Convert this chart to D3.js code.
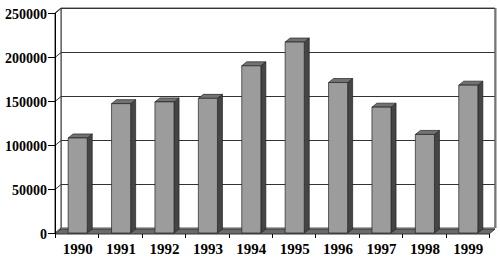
<!DOCTYPE html>
<html>
<head>
<meta charset="utf-8">
<script src="https://cdn.jsdelivr.net/npm/d3@7"></script>
<style>
  body { margin: 0; background: #fff; }
  svg text { font-family: "Liberation Serif", "Times New Roman", serif; font-weight: bold; fill: #000; }
</style>
</head>
<body>
<div id="chart"></div>
<script>
// data
var years = ["1990", "1991", "1992", "1993", "1994", "1995", "1996", "1997", "1998", "1999"];
var values = [108000, 147000, 149000, 153000, 190000, 217000, 171000, 143000, 112000, 168000];
var yTicks = [0, 50000, 100000, 150000, 200000, 250000];

var W = 500, H = 259;
var svg = d3.select("#chart").append("svg").attr("width", W).attr("height", H);

// front plane of the 3d box, walls go back by (dx, dy)
var x0 = 55, x1 = 489;
var dx = 6, dy = -5;
var bdx = 5, bdy = -4; // bar depth

var xScale = d3.scaleBand().domain(years).range([x0, x1]).paddingInner(0.56).paddingOuter(0.28);
var yScale = d3.scaleLinear().domain([0, 250000]).range([233, 13]);
var step = (x1 - x0) / years.length;

function poly(pts) { return "M" + pts.map(function (p) { return p.join(","); }).join("L") + "Z"; }

var yTop = yScale(250000), yBot = yScale(0);

// back wall
svg.append("path")
  .attr("d", poly([[x0 + dx, yTop + dy], [x1 + dx, yTop + dy], [x1 + dx, yBot + dy], [x0 + dx, yBot + dy]]))
  .attr("fill", "#fff").attr("stroke", "#555").attr("stroke-width", 1);

// left wall
svg.append("path")
  .attr("d", poly([[x0, yTop], [x0 + dx, yTop + dy], [x0 + dx, yBot + dy], [x0, yBot]]))
  .attr("fill", "#fff").attr("stroke", "#333").attr("stroke-width", 1);

// gridlines on back and left wall
var grid = svg.append("g").attr("stroke", "#333").attr("stroke-width", 1).attr("fill", "none");
yTicks.filter(function (t) { return t > 0; }).forEach(function (t) {
  var y = Math.round(yScale(t)) + 0.5;
  grid.append("path").attr("d", "M" + x0 + "," + y + "L" + (x0 + dx) + "," + (y + dy) + "L" + (x1 + dx) + "," + (y + dy));
});

// right edge of back wall
svg.append("line")
  .attr("x1", x1 + dx + 0.5).attr("x2", x1 + dx + 0.5)
  .attr("y1", yTop + dy).attr("y2", yBot + dy)
  .attr("stroke", "#777").attr("stroke-width", 2);

// floor
svg.append("path")
  .attr("d", poly([[x0, yBot + 1], [x1, yBot + 1], [x1 + dx, yBot + dy + 1], [x0 + dx, yBot + dy + 1]]))
  .attr("fill", "#6a6a6a").attr("stroke", "#333").attr("stroke-width", 1);

// y axis
svg.append("line")
  .attr("x1", x0 + 0.5).attr("x2", x0 + 0.5).attr("y1", yTop).attr("y2", yBot + 1)
  .attr("stroke", "#000");

var yAxis = svg.append("g");
yTicks.forEach(function (t) {
  var y = Math.round(yScale(t)) + 0.5;
  yAxis.append("line").attr("x1", 48).attr("x2", x0).attr("y1", y).attr("y2", y).attr("stroke", "#000");
  yAxis.append("text").attr("x", 47).attr("y", y + 5)
    .attr("text-anchor", "end").style("font-size", "14px").text(t);
});

// x axis ticks along floor front edge
var xAxis = svg.append("g");
d3.range(years.length + 1).forEach(function (i) {
  var x = Math.round(x0 + i * step) + 0.5;
  xAxis.append("line").attr("x1", x).attr("x2", x).attr("y1", yBot + 1).attr("y2", yBot + 5).attr("stroke", "#000");
});
xAxis.selectAll("text").data(years).enter().append("text")
  .attr("x", function (d) { return xScale(d) + xScale.bandwidth() / 2 + 1; })
  .attr("y", 254)
  .attr("text-anchor", "middle")
  .style("font-size", "15px")
  .text(function (d) { return d; });

// bars
var bars = svg.selectAll(".bar").data(years).enter().append("g").attr("class", "bar");
var bw = xScale.bandwidth();
function bx(d) { return xScale(d) + 1; }
function by(d, i) { return yScale(values[i]); }

bars.append("path") // side
  .attr("d", function (d, i) {
    var x = bx(d) + bw, y = by(d, i);
    return poly([[x, y], [x + bdx, y + bdy], [x + bdx, yBot + bdy], [x, yBot]]);
  })
  .attr("fill", "#454545").attr("stroke", "#222").attr("stroke-width", 0.7);

bars.append("path") // top
  .attr("d", function (d, i) {
    var x = bx(d), y = by(d, i);
    return poly([[x, y], [x + bw, y], [x + bw + bdx, y + bdy], [x + bdx, y + bdy]]);
  })
  .attr("fill", "#727272").attr("stroke", "#222").attr("stroke-width", 0.7);

bars.append("path") // front
  .attr("d", function (d, i) {
    var x = bx(d), y = by(d, i);
    return poly([[x, y], [x + bw, y], [x + bw, yBot], [x, yBot]]);
  })
  .attr("fill", "#9c9c9c").attr("stroke", "#222").attr("stroke-width", 0.7);
</script>
</body>
</html>
